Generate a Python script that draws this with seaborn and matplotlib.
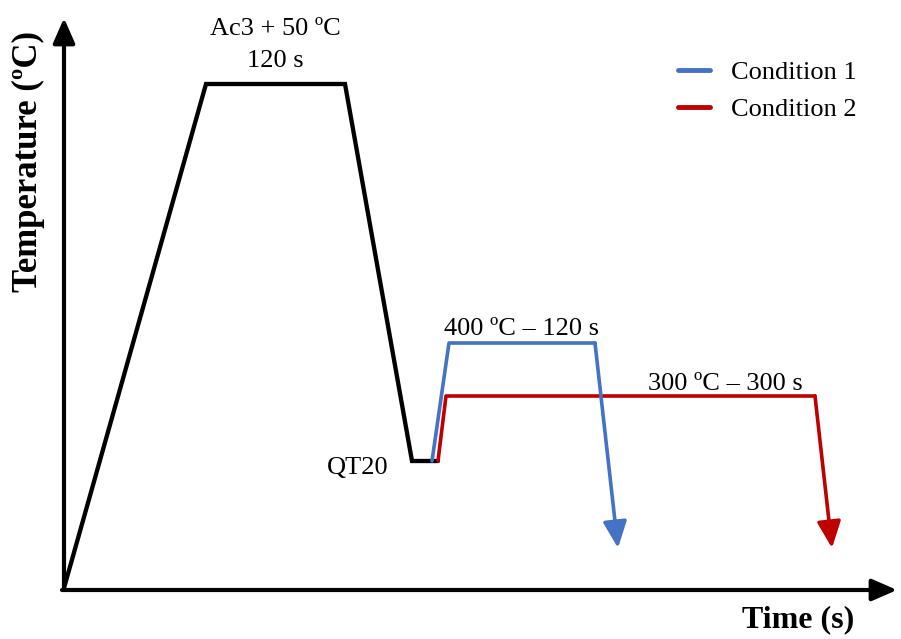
import matplotlib
matplotlib.use("Agg")
import matplotlib.pyplot as plt
import seaborn as sns

# Schematic heat-treatment cycle (arbitrary time / temperature units)
austenitize_time = [0, 142, 281, 348, 374]
austenitize_temp = [0, 504, 504, 127, 127]

cond1_time = [368, 385, 531, 554]
cond1_temp = [127, 245, 245, 40]

cond2_time = [374, 382, 751, 768]
cond2_temp = [127, 192, 192, 40]

series_labels = ["Condition 1", "Condition 2"]
series_colors = ["#4472C4", "#C00000"]

sns.set_style("white")
plt.rcParams["font.family"] = ["Liberation Serif", "DejaVu Serif"]
plt.rcParams["text.color"] = "black"

fig = plt.figure(figsize=(9.01, 6.39), dpi=100)
ax = fig.add_axes([0, 0, 1, 1])
ax.set_xlim(-64, 837)
ax.set_ylim(-51, 588)
ax.axis("off")

# Axes drawn as arrows
axis_kw = dict(arrowstyle="-|>,head_length=0.8,head_width=0.35", color="black",
               lw=3.0, shrinkA=0, shrinkB=0, mutation_scale=19)
ax.annotate("", xy=(0, 570), xytext=(0, -2), arrowprops=axis_kw)
ax.annotate("", xy=(833, -2), xytext=(-2, -2), arrowprops=axis_kw)

# Austenitizing + quench path
sns.lineplot(x=austenitize_time, y=austenitize_temp, sort=False, estimator=None,
             color="black", lw=3.1, ax=ax)
for line in ax.get_lines():
    line.set_solid_joinstyle("miter")

# Partitioning paths, with the last segment drawn as an arrow
for t, T, lab, col in zip([cond1_time, cond2_time], [cond1_temp, cond2_temp],
                          series_labels, series_colors):
    sns.lineplot(x=t[:-1], y=T[:-1], sort=False, estimator=None, color=col,
                 lw=2.6, ax=ax, label=lab)
    ax.annotate("", xy=(t[-1], T[-1]), xytext=(t[-2], T[-2]),
                arrowprops=dict(arrowstyle="-|>,head_length=0.85,head_width=0.38",
                                color=col, lw=2.6, shrinkA=0, shrinkB=0,
                                mutation_scale=19))

# Annotations
ax.text((austenitize_time[1] + austenitize_time[2]) / 2, 559, "Ac3 + 50 ºC",
        ha="center", va="center", fontsize=19)
ax.text((austenitize_time[1] + austenitize_time[2]) / 2, 527, "120 s",
        ha="center", va="center", fontsize=19)
ax.text(austenitize_time[3] - 24, 120, "QT20", ha="right", va="center", fontsize=19)
ax.text((cond1_time[1] + cond1_time[2]) / 2, 259, "400 ºC – 120 s",
        ha="center", va="center", fontsize=19)
ax.text(661, 204, "300 ºC – 300 s", ha="center", va="center", fontsize=19)

ax.text(-36, 426, "Temperature (ºC)", rotation=90, ha="center", va="center",
        fontsize=25, fontweight="bold")
ax.text(734, -32, "Time (s)", ha="center", va="center", fontsize=23,
        fontweight="bold")

ax.legend(loc="upper left", bbox_to_anchor=(0.753, 0.905), frameon=False,
          fontsize=19, handlelength=1.2, handletextpad=0.8, labelspacing=0.5,
          borderpad=0, borderaxespad=0)
for h in ax.get_legend().get_lines():
    h.set_linewidth(3.5)

fig.savefig("out.png", dpi=100, facecolor="white")
